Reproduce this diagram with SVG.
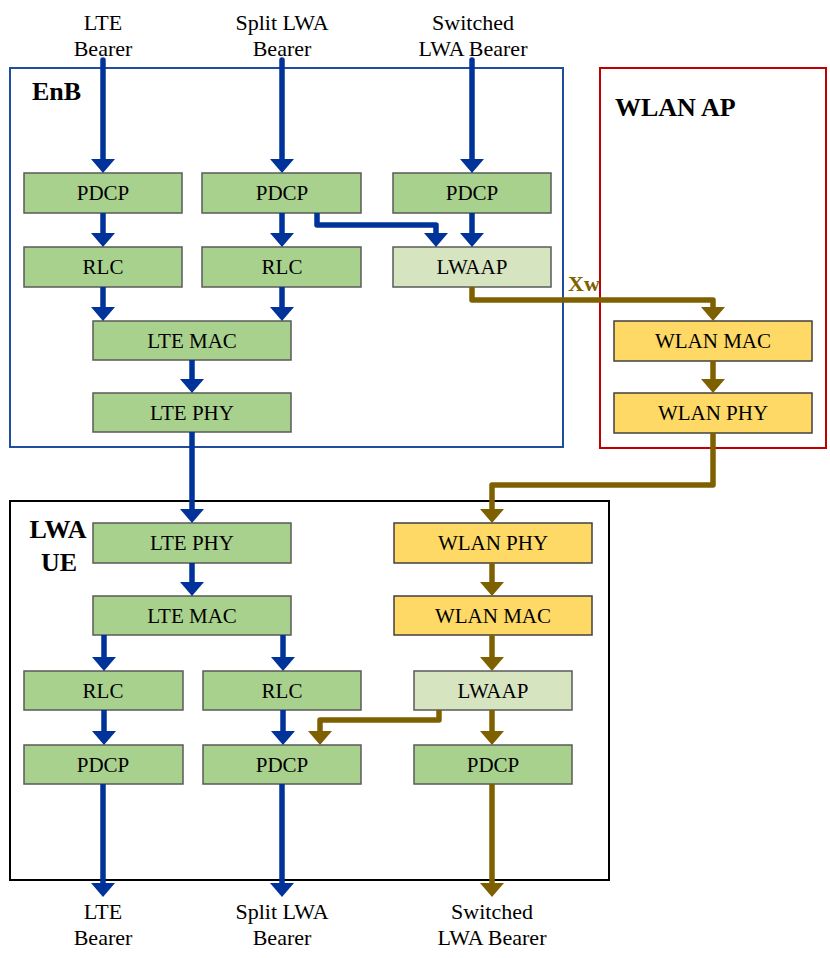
<svg xmlns="http://www.w3.org/2000/svg" width="830" height="958" viewBox="0 0 830 958">
<style>
.lbl{font-family:"Liberation Serif","Times New Roman",serif;font-size:21px;fill:#000;text-anchor:middle}
.ext{font-size:22px}
.hdr{font-family:"Liberation Serif","Times New Roman",serif;font-size:26px;font-weight:bold;fill:#000}
.g{fill:#a9d18e;stroke:#5a5a5a;stroke-width:1.5}
.lg{fill:#d7e4c0;stroke:#5a5a5a;stroke-width:1.5}
.y{fill:#ffd966;stroke:#404040;stroke-width:1.5}
.b{fill:none;stroke:#003399;stroke-width:5.5;stroke-linejoin:round}
.o{fill:none;stroke:#7f6000;stroke-width:5.5;stroke-linejoin:round}
</style>
<defs>
<marker id="ab" markerUnits="userSpaceOnUse" viewBox="0 0 14 24" refX="6" refY="12" markerWidth="14" markerHeight="24" orient="auto"><path d="M0,0 L14,12 L0,24 z" fill="#003399"/></marker>
<marker id="ao" markerUnits="userSpaceOnUse" viewBox="0 0 14 24" refX="6" refY="12" markerWidth="14" markerHeight="24" orient="auto"><path d="M0,0 L14,12 L0,24 z" fill="#7f6000"/></marker>
</defs>

<g id="enb">
<rect x="10" y="68" width="553" height="379" fill="none" stroke="#1f4e9f" stroke-width="2"/>
<text class="hdr" x="32" y="100">EnB</text>
</g>
<g id="wlanap">
<rect x="600" y="68" width="226" height="380" fill="none" stroke="#c00000" stroke-width="2"/>
<text class="hdr" x="615" y="116">WLAN AP</text>
</g>
<g id="lwaue">
<rect x="10" y="501" width="599" height="379" fill="none" stroke="#000" stroke-width="2"/>
<text class="hdr" x="58" y="538" text-anchor="middle">LWA</text>
<text class="hdr" x="59" y="571" text-anchor="middle">UE</text>
</g>

<g id="top-labels">
<text class="lbl ext" x="103" y="30">LTE</text>
<text class="lbl ext" x="103" y="56">Bearer</text>
<text class="lbl ext" x="282" y="30">Split LWA</text>
<text class="lbl ext" x="282" y="56">Bearer</text>
<text class="lbl ext" x="473" y="30">Switched</text>
<text class="lbl ext" x="473" y="56">LWA Bearer</text>
</g>

<g id="enb-pdcp1"><rect class="g" x="24" y="173" width="158" height="40"/><text class="lbl" x="103" y="200">PDCP</text></g>
<g id="enb-pdcp2"><rect class="g" x="202" y="173" width="159" height="40"/><text class="lbl" x="282" y="200">PDCP</text></g>
<g id="enb-pdcp3"><rect class="g" x="393" y="173" width="158" height="40"/><text class="lbl" x="472" y="200">PDCP</text></g>
<g id="enb-rlc1"><rect class="g" x="24" y="247" width="158" height="40"/><text class="lbl" x="103" y="274">RLC</text></g>
<g id="enb-rlc2"><rect class="g" x="202" y="247" width="159" height="40"/><text class="lbl" x="282" y="274">RLC</text></g>
<g id="enb-lwaap"><rect class="lg" x="393" y="247" width="158" height="40"/><text class="lbl" x="472" y="274">LWAAP</text></g>
<g id="enb-ltemac"><rect class="g" x="93" y="321" width="198" height="39"/><text class="lbl" x="192" y="348">LTE MAC</text></g>
<g id="enb-ltephy"><rect class="g" x="93" y="393" width="198" height="39"/><text class="lbl" x="192" y="420">LTE PHY</text></g>
<g id="ap-wlanmac"><rect class="y" x="614" y="321" width="198" height="40"/><text class="lbl" x="713" y="348">WLAN MAC</text></g>
<g id="ap-wlanphy"><rect class="y" x="614" y="393" width="198" height="40"/><text class="lbl" x="713" y="420">WLAN PHY</text></g>

<g id="ue-ltephy"><rect class="g" x="93" y="523" width="198" height="40"/><text class="lbl" x="192" y="550">LTE PHY</text></g>
<g id="ue-ltemac"><rect class="g" x="93" y="596" width="198" height="39"/><text class="lbl" x="192" y="623">LTE MAC</text></g>
<g id="ue-rlc1"><rect class="g" x="24" y="671" width="159" height="39"/><text class="lbl" x="103" y="698">RLC</text></g>
<g id="ue-rlc2"><rect class="g" x="203" y="671" width="158" height="39"/><text class="lbl" x="282" y="698">RLC</text></g>
<g id="ue-wlanphy"><rect class="y" x="394" y="523" width="198" height="40"/><text class="lbl" x="493" y="550">WLAN PHY</text></g>
<g id="ue-wlanmac"><rect class="y" x="394" y="596" width="198" height="39"/><text class="lbl" x="493" y="623">WLAN MAC</text></g>
<g id="ue-lwaap"><rect class="lg" x="414" y="671" width="158" height="39"/><text class="lbl" x="493" y="698">LWAAP</text></g>
<g id="ue-pdcp1"><rect class="g" x="24" y="745" width="159" height="39"/><text class="lbl" x="103" y="772">PDCP</text></g>
<g id="ue-pdcp2"><rect class="g" x="203" y="745" width="158" height="39"/><text class="lbl" x="282" y="772">PDCP</text></g>
<g id="ue-pdcp3"><rect class="g" x="414" y="745" width="158" height="39"/><text class="lbl" x="493" y="772">PDCP</text></g>

<g id="bottom-labels">
<text class="lbl ext" x="103" y="919">LTE</text>
<text class="lbl ext" x="103" y="945">Bearer</text>
<text class="lbl ext" x="282" y="919">Split LWA</text>
<text class="lbl ext" x="282" y="945">Bearer</text>
<text class="lbl ext" x="492" y="919">Switched</text>
<text class="lbl ext" x="492" y="945">LWA Bearer</text>
</g>

<g id="connectors">
<path class="b" stroke-linecap="round" d="M103,60 V165" marker-end="url(#ab)"/>
<path class="b" stroke-linecap="round" d="M282,60 V165" marker-end="url(#ab)"/>
<path class="b" stroke-linecap="round" d="M472,60 V165" marker-end="url(#ab)"/>
<path class="b" d="M103,213 V239" marker-end="url(#ab)"/>
<path class="b" d="M282,213 V239" marker-end="url(#ab)"/>
<path class="b" d="M472,213 V239" marker-end="url(#ab)"/>
<path class="b" d="M317,213 V225 H436 V239" marker-end="url(#ab)"/>
<path class="b" d="M103,287 V313" marker-end="url(#ab)"/>
<path class="b" d="M282,287 V313" marker-end="url(#ab)"/>
<path class="b" d="M192,360 V385" marker-end="url(#ab)"/>
<path class="b" d="M192,432 V515" marker-end="url(#ab)"/>
<path class="o" d="M472,287 V300 H713 V313" marker-end="url(#ao)"/>
<path class="o" d="M713,361 V385" marker-end="url(#ao)"/>
<path class="o" d="M713,433 V485 H492 V515" marker-end="url(#ao)"/>
<path class="b" d="M192,563 V588" marker-end="url(#ab)"/>
<path class="b" d="M104,635 V663" marker-end="url(#ab)"/>
<path class="b" d="M283,635 V663" marker-end="url(#ab)"/>
<path class="o" d="M492,563 V588" marker-end="url(#ao)"/>
<path class="o" d="M492,635 V663" marker-end="url(#ao)"/>
<path class="b" d="M104,710 V737" marker-end="url(#ab)"/>
<path class="b" d="M283,710 V737" marker-end="url(#ab)"/>
<path class="o" d="M492,710 V737" marker-end="url(#ao)"/>
<path class="o" d="M439,710 V720 H320 V737" marker-end="url(#ao)"/>
<path class="b" d="M103,784 V889" marker-end="url(#ab)"/>
<path class="b" d="M282,784 V889" marker-end="url(#ab)"/>
<path class="o" d="M492,784 V889" marker-end="url(#ao)"/>
<text x="568" y="291" font-family="Liberation Serif, Times New Roman, serif" font-size="22" font-weight="bold" fill="#7f6000">Xw</text>
</g>
</svg>
